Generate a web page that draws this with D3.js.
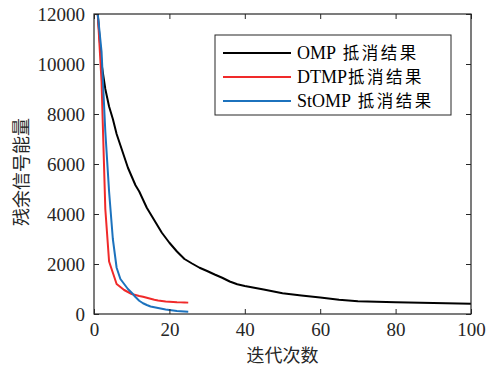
<!DOCTYPE html>
<html>
<head>
<meta charset="utf-8">
<script src="https://cdn.jsdelivr.net/npm/d3@7/dist/d3.min.js"></script>
<style>
  body { margin: 0; background: #fff; }
  svg text { font-family: "Liberation Serif", "DejaVu Serif", serif; }
  .cjk { font-family: "Noto Sans CJK SC", "Noto Sans", sans-serif; }
</style>
</head>
<body>
<div id="chart"></div>
<script>
// iteration values
var ompIter = [1, 2, 3, 4, 5, 6, 7, 8, 9, 10, 11, 12, 14, 16, 18, 20, 22, 24, 26, 28, 30, 32, 34, 36, 38, 40, 45, 50, 55, 60, 65, 70, 75, 80, 90, 100];
var ompVal  = [12000, 10000, 9000, 8300, 7800, 7200, 6750, 6300, 5850, 5500, 5150, 4900, 4250, 3750, 3250, 2850, 2500, 2200, 2020, 1850, 1720, 1580, 1450, 1300, 1190, 1120, 980, 830, 740, 660, 570, 510, 490, 470, 440, 410];

var dtmpIter = [1, 2, 3, 4, 5, 6, 7, 8, 9, 10, 11, 12, 13, 14, 15, 16, 17, 18, 19, 20, 21, 22, 23, 24, 25];
var dtmpVal  = [12000, 9300, 4200, 2100, 1650, 1200, 1080, 960, 880, 800, 760, 720, 690, 650, 610, 570, 540, 520, 500, 490, 480, 470, 465, 460, 455];

var stompIter = [1, 2, 3, 4, 5, 6, 7, 8, 9, 10, 11, 12, 13, 14, 15, 16, 17, 18, 19, 20, 21, 22, 23, 24, 25];
var stompVal  = [12000, 10500, 7300, 4900, 3000, 1850, 1400, 1200, 1000, 850, 680, 530, 430, 360, 300, 270, 240, 210, 180, 160, 140, 120, 110, 100, 90];

var xTicks = [0, 20, 40, 60, 80, 100];
var yTicks = [0, 2000, 4000, 6000, 8000, 10000, 12000];

var seriesNames = ["OMP 抵消结果", "DTMP抵消结果", "StOMP 抵消结果"];
var seriesColors = ["#000000", "#f02a2a", "#1c72bd"];

(function() {
    var W = 489, H = 368;
    var margin = { left: 94, right: 18, top: 14, bottom: 54 };
    var width = W - margin.left - margin.right,
        height = H - margin.top - margin.bottom;

    var svg = d3.select("#chart").append("svg")
        .attr("width", W)
        .attr("height", H);

    var g = svg.append("g")
        .attr("transform", "translate(" + margin.left + "," + margin.top + ")");

    var x = d3.scaleLinear().domain([0, 100]).range([0, width]);
    var y = d3.scaleLinear().domain([0, 12000]).range([height, 0]);

    // series
    var series = [
        { iter: ompIter, val: ompVal },
        { iter: dtmpIter, val: dtmpVal },
        { iter: stompIter, val: stompVal }
    ];

    var line = d3.line()
        .x(function(d) { return x(d[0]); })
        .y(function(d) { return y(d[1]); });

    series.forEach(function(s, i) {
        var pts = s.iter.map(function(it, k) { return [it, s.val[k]]; });
        g.append("path")
            .datum(pts)
            .attr("fill", "none")
            .attr("stroke", seriesColors[i])
            .attr("stroke-width", 2)
            .attr("stroke-linejoin", "round")
            .attr("d", line);
    });

    // axes, ticks pointing inward
    var tickLen = 5;
    var axisColor = "#262626";

    var xBottom = g.append("g")
        .attr("transform", "translate(0," + height + ")")
        .call(d3.axisBottom(x).tickValues(xTicks).tickSizeInner(-tickLen).tickSizeOuter(0).tickPadding(9));
    var xTop = g.append("g")
        .call(d3.axisTop(x).tickValues(xTicks).tickSizeInner(-tickLen).tickSizeOuter(0).tickFormat(""));
    var yLeft = g.append("g")
        .call(d3.axisLeft(y).tickValues(yTicks).tickFormat(d3.format("d")).tickSizeInner(-tickLen).tickSizeOuter(0).tickPadding(9));
    var yRight = g.append("g")
        .attr("transform", "translate(" + width + ",0)")
        .call(d3.axisRight(y).tickValues(yTicks).tickSizeInner(-tickLen).tickSizeOuter(0).tickFormat(""));

    [xBottom, xTop, yLeft, yRight].forEach(function(a) {
        a.select(".domain").remove();
        a.selectAll("line").attr("stroke", axisColor).attr("stroke-width", 1);
        a.selectAll("text")
            .attr("fill", "#262626")
            .style("font-size", "19px")
            .style("font-family", "'Liberation Serif', serif");
    });

    g.append("rect")
        .attr("x", 0).attr("y", 0)
        .attr("width", width).attr("height", height)
        .attr("fill", "none")
        .attr("stroke", axisColor)
        .attr("stroke-width", 1.2);

    // axis labels
    svg.append("text")
        .attr("class", "cjk")
        .attr("x", margin.left + width / 2)
        .attr("y", 362)
        .attr("text-anchor", "middle")
        .attr("font-size", "18px")
        .attr("fill", "#262626")
        .text("迭代次数");

    svg.append("text")
        .attr("class", "cjk")
        .attr("transform", "translate(28," + 172 + ") rotate(-90)")
        .attr("text-anchor", "middle")
        .attr("font-size", "18px")
        .attr("fill", "#262626")
        .text("残余信号能量");

    // legend
    var lg = svg.append("g").attr("transform", "translate(215,35)");
    lg.append("rect")
        .attr("width", 236).attr("height", 80)
        .attr("fill", "#fff")
        .attr("stroke", axisColor)
        .attr("stroke-width", 1);

    seriesNames.forEach(function(name, i) {
        var cy = 18 + i * 24;
        lg.append("line")
            .attr("x1", 8).attr("x2", 76)
            .attr("y1", cy).attr("y2", cy)
            .attr("stroke", seriesColors[i])
            .attr("stroke-width", 2);
        var t = lg.append("text")
            .attr("x", 82)
            .attr("y", cy + 6)
            .attr("font-size", "16.5px")
            .attr("fill", "#000");
        var parts = name.match(/^([A-Za-z]+)(\s?)(.*)$/);
        t.append("tspan")
            .style("font-family", "'Liberation Serif', serif")
            .style("font-size", "18px")
            .text(parts[1] + parts[2]);
        t.append("tspan")
            .attr("class", "cjk")
            .attr("dx", parts[2] ? 3 : 1)
            .style("letter-spacing", "2.5px")
            .text(parts[3]);
    });
})();
</script>
</body>
</html>
